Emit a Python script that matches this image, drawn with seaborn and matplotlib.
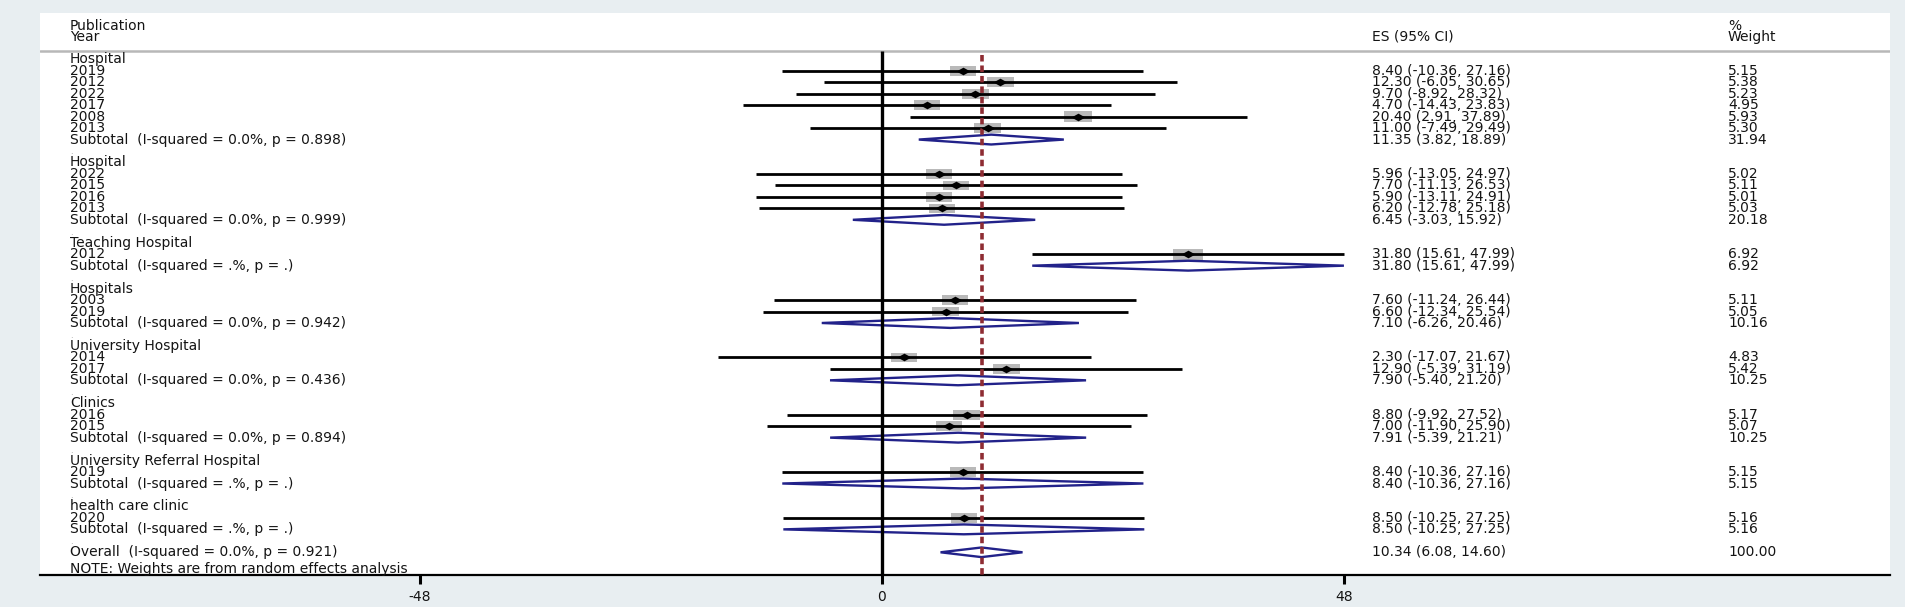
"""Forest plot of effect sizes by facility type (Stata metan style)."""

import matplotlib

matplotlib.use("Agg")

import matplotlib.pyplot as plt
import matplotlib.transforms as mtransforms
import numpy as np
import seaborn as sns

# ---- data -----------------------------------------------------------------
group_names = [
    "Hospital", "Hospital", "Teaching Hospital", "Hospitals",
    "University Hospital", "Clinics", "University Referral Hospital",
    "health care clinic",
]
study_years = [
    [2019, 2012, 2022, 2017, 2008, 2013],
    [2022, 2015, 2016, 2013],
    [2012],
    [2003, 2019],
    [2014, 2017],
    [2016, 2015],
    [2019],
    [2020],
]
study_es = [
    [8.40, 12.30, 9.70, 4.70, 20.40, 11.00],
    [5.96, 7.70, 5.90, 6.20],
    [31.80],
    [7.60, 6.60],
    [2.30, 12.90],
    [8.80, 7.00],
    [8.40],
    [8.50],
]
study_lo = [
    [-10.36, -6.05, -8.92, -14.43, 2.91, -7.49],
    [-13.05, -11.13, -13.11, -12.78],
    [15.61],
    [-11.24, -12.34],
    [-17.07, -5.39],
    [-9.92, -11.90],
    [-10.36],
    [-10.25],
]
study_hi = [
    [27.16, 30.65, 28.32, 23.83, 37.89, 29.49],
    [24.97, 26.53, 24.91, 25.18],
    [47.99],
    [26.44, 25.54],
    [21.67, 31.19],
    [27.52, 25.90],
    [27.16],
    [27.25],
]
study_weight = [
    [5.15, 5.38, 5.23, 4.95, 5.93, 5.30],
    [5.02, 5.11, 5.01, 5.03],
    [6.92],
    [5.11, 5.05],
    [4.83, 5.42],
    [5.17, 5.07],
    [5.15],
    [5.16],
]
sub_es = [11.35, 6.45, 31.80, 7.10, 7.90, 7.91, 8.40, 8.50]
sub_lo = [3.82, -3.03, 15.61, -6.26, -5.40, -5.39, -10.36, -10.25]
sub_hi = [18.89, 15.92, 47.99, 20.46, 21.20, 21.21, 27.16, 27.25]
sub_weight = [31.94, 20.18, 6.92, 10.16, 10.25, 10.25, 5.15, 5.16]
sub_i2 = ["0.0%", "0.0%", ".%", "0.0%", "0.0%", "0.0%", ".%", ".%"]
sub_p = ["0.898", "0.999", ".", "0.942", "0.436", "0.894", ".", "."]

overall_es, overall_lo, overall_hi = 10.34, 6.08, 14.60
overall_weight = 100.00
overall_i2, overall_p = "0.0%", "0.921"

x_ticks = [-48, 0, 48]

# ---- style ----------------------------------------------------------------
BG = "#e8eef1"
NAVY = "#22228a"
MAROON = "#8e2c33"
TXT = "#141414"

sns.set_theme(style="white")
plt.rcParams["font.family"] = ["DejaVu Sans"]
FS = 10

fig = plt.figure(figsize=(19.05, 6.07), dpi=100, facecolor=BG)
W, H = 1905, 607
ax = fig.add_axes([40 / W, 32 / H, 1850 / W, 562 / H])
ax.set_facecolor("white")

# pixel geometry: 0 at x=882, 48 units = 462 px
px_per_unit = 462 / 48
ax.set_xlim((40 - 882) / px_per_unit, (1890 - 882) / px_per_unit)
row_h = 11.465
ax.set_ylim((575 - 59.3) / row_h, (13 - 59.3) / row_h)

tr = mtransforms.blended_transform_factory(ax.transAxes, ax.transData)
col_label, col_es, col_wt = 30 / 1850, 1332 / 1850, 1688 / 1850


def put(x, y, s):
    ax.text(x, y, s, transform=tr, va="center", fontsize=FS, color=TXT)


def fmt_ci(es, lo, hi):
    return f"{es:.2f} ({lo:.2f}, {hi:.2f})"


def diamond(es, lo, hi, y, half=0.43):
    xs = [lo, es, hi, es, lo]
    ys = [y, y - half, y, y + half, y]
    ax.fill(xs, ys, facecolor="white", edgecolor=NAVY, lw=1.7, zorder=2.5)


# ---- rows -----------------------------------------------------------------
box_x, box_y, box_s = [], [], []
row = 0
for g, name in enumerate(group_names):
    put(col_label, row, name)
    row += 1
    for yr, es, lo, hi, w in zip(study_years[g], study_es[g], study_lo[g],
                                 study_hi[g], study_weight[g]):
        ax.hlines(row, lo, hi, color="black", lw=2.0, zorder=3)
        box_x.append(es)
        box_y.append(row)
        box_s.append(w)
        put(col_label, row, str(yr))
        put(col_es, row, fmt_ci(es, lo, hi))
        put(col_wt, row, f"{w:.2f}")
        row += 1
    diamond(sub_es[g], sub_lo[g], sub_hi[g], row)
    put(col_label, row, f"Subtotal  (I-squared = {sub_i2[g]}, p = {sub_p[g]})")
    put(col_es, row, fmt_ci(sub_es[g], sub_lo[g], sub_hi[g]))
    put(col_wt, row, f"{sub_weight[g]:.2f}")
    row += 1
    ax.text(col_label, row + 0.3, ".", transform=tr, va="baseline", fontsize=6,
            color="#999999")
    row += 1

diamond(overall_es, overall_lo, overall_hi, row, half=0.42)
put(col_label, row, f"Overall  (I-squared = {overall_i2}, p = {overall_p})")
put(col_es, row, fmt_ci(overall_es, overall_lo, overall_hi))
put(col_wt, row, f"{overall_weight:.2f}")
put(col_label, row + 1.5, "NOTE: Weights are from random effects analysis")

# weight boxes (area ~ weight, stretched like the original) and point estimates
box_marker = [(-1, -0.37), (1, -0.37), (1, 0.37), (-1, 0.37)]
ax.scatter(box_x, box_y, s=np.array(box_s) * 70, marker=box_marker,
           color="#b9b9b9", linewidths=0, zorder=2)
pt_marker = [(-1, 0), (0, 0.55), (1, 0), (0, -0.55)]
sns.scatterplot(x=box_x, y=box_y, marker=pt_marker, s=100, color="black",
                linewidth=0, zorder=5, ax=ax)

# header
hdr_top, hdr_bot = (25.7 - 59.3) / row_h, (36.7 - 59.3) / row_h
put(col_label, hdr_top, "Publication")
put(col_label, hdr_bot, "Year")
put(col_es, hdr_bot, "ES (95% CI)")
put(col_wt, hdr_top, "%")
put(col_wt, hdr_bot, "Weight")
sep_y = (51 - 59.3) / row_h
ax.axhline(sep_y, color="#b8b8b8", lw=1.8, zorder=1)

# reference lines
y_bottom = ax.get_ylim()[0]
ax.vlines(0, sep_y, y_bottom, color="black", lw=2.4, zorder=3)
ax.vlines(overall_es, (55 - 59.3) / row_h, y_bottom, color=MAROON, lw=2.6,
          linestyles=(0, (1.8, 1.1)), zorder=3.5)

# axis
for side in ["top", "left", "right"]:
    ax.spines[side].set_visible(False)
ax.spines["bottom"].set_color("black")
ax.spines["bottom"].set_linewidth(1.6)
ax.set_yticks([])
ax.set_xticks(x_ticks)
ax.set_xticklabels([str(t) for t in x_ticks], fontsize=FS, color=TXT)
ax.tick_params(axis="x", direction="out", length=6.5, width=2.2, color="black",
               pad=4, bottom=True)

fig.savefig("out.png", dpi=100, facecolor=BG)
plt.close(fig)
